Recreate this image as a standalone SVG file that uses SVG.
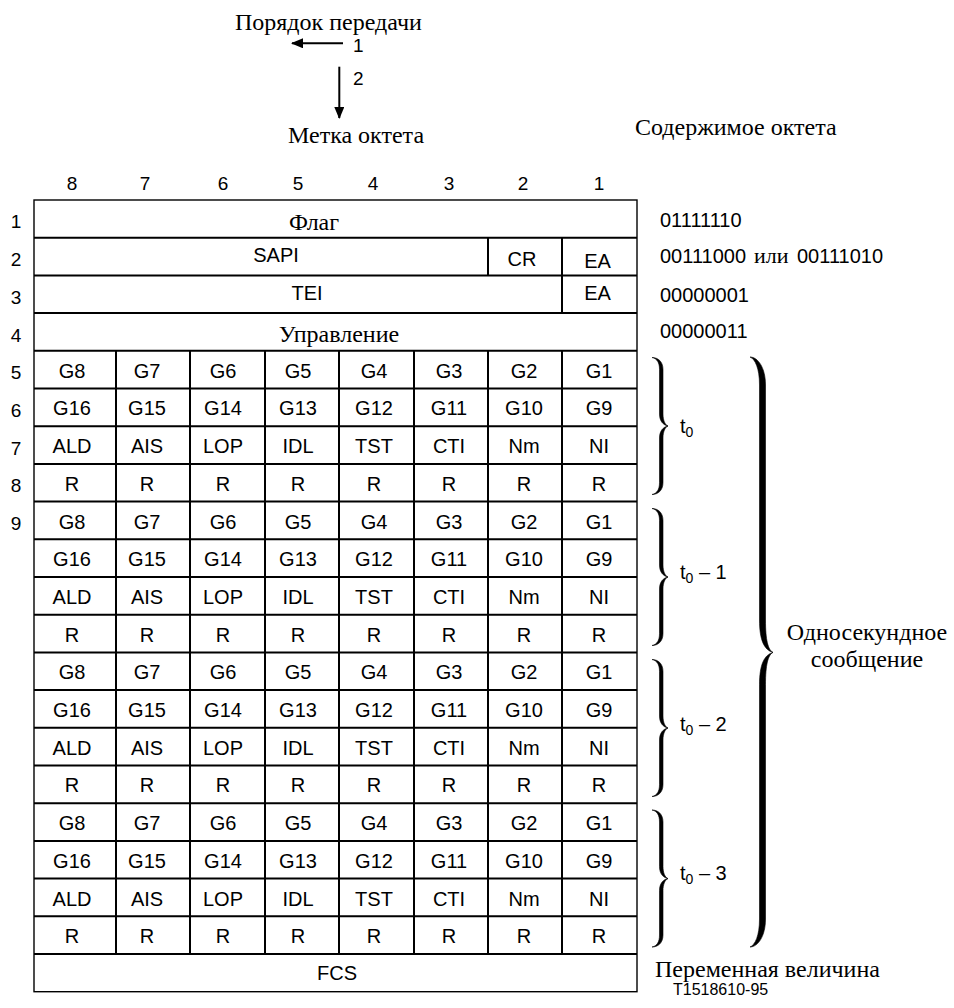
<svg xmlns="http://www.w3.org/2000/svg" width="954" height="1008" viewBox="0 0 954 1008">
<style>
.sans{font-family:"Liberation Sans",Arial,sans-serif;fill:#000}
.serif{font-family:"Liberation Serif","Times New Roman",serif;fill:#000}
.c{font-size:20px;text-anchor:middle}
.n{font-size:19px;text-anchor:middle}
.o{font-size:20px}
.s24{font-size:24px}
.grid{stroke:#000;stroke-width:2;fill:none}
.border{stroke:#000;stroke-width:1.4;fill:none}
.brace{fill:#000;stroke:#000;stroke-width:0.6}
</style>
<defs>
<marker id="ah" viewBox="0 0 12 10" refX="11" refY="5" markerWidth="12" markerHeight="10" markerUnits="userSpaceOnUse" orient="auto">
<path d="M0,0 L12,5 L0,10 Z" fill="#000"/>
</marker>
</defs>
<rect width="954" height="1008" fill="#fff"/>

<g id="legend">
<text class="serif s24" x="235" y="30">Порядок передачи</text>
<text class="sans" font-size="19" x="353" y="52">1</text>
<text class="sans" font-size="19" x="353" y="85">2</text>
<text class="serif s24" x="288" y="143">Метка октета</text>
<text class="serif s24" x="635" y="135">Содержимое октета</text>
</g>

<g id="connectors">
<line x1="343" y1="43.3" x2="292" y2="43.3" stroke="#000" stroke-width="2" marker-end="url(#ah)"/>
<line x1="339.3" y1="66.7" x2="339.3" y2="118" stroke="#000" stroke-width="2" marker-end="url(#ah)"/>
</g>

<g id="bit-numbers" class="sans n">
<text x="72" y="190">8</text><text x="145" y="190">7</text><text x="223" y="190">6</text><text x="298" y="190">5</text>
<text x="373" y="190">4</text><text x="449" y="190">3</text><text x="523" y="190">2</text><text x="599" y="190">1</text>
</g>

<g id="octet-numbers" class="sans n">
<text x="16" y="228.4">1</text><text x="16" y="266">2</text><text x="16" y="303.8">3</text><text x="16" y="341.5">4</text>
<text x="16" y="379.2">5</text><text x="16" y="416.9">6</text><text x="16" y="454.6">7</text><text x="16" y="492.3">8</text>
<text x="16" y="530">9</text>
</g>

<g id="table-grid">
<rect class="border" x="34" y="200" width="603" height="791.7"/>
<path class="grid" d="M34,237.7H637 M34,275.4H637 M34,313.1H637 M34,350.8H637 M34,388.5H637 M34,426.2H637 M34,463.9H637 M34,501.6H637 M34,539.3H637 M34,577H637 M34,614.7H637 M34,652.4H637 M34,690.1H637 M34,727.8H637 M34,765.5H637 M34,803.2H637 M34,840.9H637 M34,878.6H637 M34,916.3H637 M34,954H637"/>
<path class="grid" d="M488,237.7V275.4 M562,237.7V313.1 M116,350.8V954 M190,350.8V954 M265,350.8V954 M339,350.8V954 M414,350.8V954 M488,350.8V954 M562,350.8V954"/>
</g>

<g id="row-flag"><text class="serif s24" x="314" y="230" text-anchor="middle">Флаг</text></g>
<g id="row-sapi" class="sans c">
<text x="276" y="262">SAPI</text><text x="522" y="266">CR</text><text x="597.5" y="268.3">EA</text>
</g>
<g id="row-tei" class="sans c"><text x="307" y="300">TEI</text><text x="597.5" y="300">EA</text></g>
<g id="row-control"><text class="serif s24" x="339" y="341.5" text-anchor="middle">Управление</text></g>

<g id="group-t0" class="sans c">
<text x="72" y="377.7">G8</text><text x="147" y="377.7">G7</text><text x="223" y="377.7">G6</text><text x="298" y="377.7">G5</text><text x="374" y="377.7">G4</text><text x="449" y="377.7">G3</text><text x="524" y="377.7">G2</text><text x="599" y="377.7">G1</text>
<text x="72" y="415.4">G16</text><text x="147" y="415.4">G15</text><text x="223" y="415.4">G14</text><text x="298" y="415.4">G13</text><text x="374" y="415.4">G12</text><text x="449" y="415.4">G11</text><text x="524" y="415.4">G10</text><text x="599" y="415.4">G9</text>
<text x="72" y="453.1">ALD</text><text x="147" y="453.1">AIS</text><text x="223" y="453.1">LOP</text><text x="298" y="453.1">IDL</text><text x="374" y="453.1">TST</text><text x="449" y="453.1">CTI</text><text x="524" y="453.1">Nm</text><text x="599" y="453.1">NI</text>
<text x="72" y="490.8">R</text><text x="147" y="490.8">R</text><text x="223" y="490.8">R</text><text x="298" y="490.8">R</text><text x="374" y="490.8">R</text><text x="449" y="490.8">R</text><text x="524" y="490.8">R</text><text x="599" y="490.8">R</text>
</g>
<g id="group-t0-1" class="sans c">
<text x="72" y="528.5">G8</text><text x="147" y="528.5">G7</text><text x="223" y="528.5">G6</text><text x="298" y="528.5">G5</text><text x="374" y="528.5">G4</text><text x="449" y="528.5">G3</text><text x="524" y="528.5">G2</text><text x="599" y="528.5">G1</text>
<text x="72" y="566.2">G16</text><text x="147" y="566.2">G15</text><text x="223" y="566.2">G14</text><text x="298" y="566.2">G13</text><text x="374" y="566.2">G12</text><text x="449" y="566.2">G11</text><text x="524" y="566.2">G10</text><text x="599" y="566.2">G9</text>
<text x="72" y="603.9">ALD</text><text x="147" y="603.9">AIS</text><text x="223" y="603.9">LOP</text><text x="298" y="603.9">IDL</text><text x="374" y="603.9">TST</text><text x="449" y="603.9">CTI</text><text x="524" y="603.9">Nm</text><text x="599" y="603.9">NI</text>
<text x="72" y="641.6">R</text><text x="147" y="641.6">R</text><text x="223" y="641.6">R</text><text x="298" y="641.6">R</text><text x="374" y="641.6">R</text><text x="449" y="641.6">R</text><text x="524" y="641.6">R</text><text x="599" y="641.6">R</text>
</g>
<g id="group-t0-2" class="sans c">
<text x="72" y="679.3">G8</text><text x="147" y="679.3">G7</text><text x="223" y="679.3">G6</text><text x="298" y="679.3">G5</text><text x="374" y="679.3">G4</text><text x="449" y="679.3">G3</text><text x="524" y="679.3">G2</text><text x="599" y="679.3">G1</text>
<text x="72" y="717">G16</text><text x="147" y="717">G15</text><text x="223" y="717">G14</text><text x="298" y="717">G13</text><text x="374" y="717">G12</text><text x="449" y="717">G11</text><text x="524" y="717">G10</text><text x="599" y="717">G9</text>
<text x="72" y="754.7">ALD</text><text x="147" y="754.7">AIS</text><text x="223" y="754.7">LOP</text><text x="298" y="754.7">IDL</text><text x="374" y="754.7">TST</text><text x="449" y="754.7">CTI</text><text x="524" y="754.7">Nm</text><text x="599" y="754.7">NI</text>
<text x="72" y="792.4">R</text><text x="147" y="792.4">R</text><text x="223" y="792.4">R</text><text x="298" y="792.4">R</text><text x="374" y="792.4">R</text><text x="449" y="792.4">R</text><text x="524" y="792.4">R</text><text x="599" y="792.4">R</text>
</g>
<g id="group-t0-3" class="sans c">
<text x="72" y="830.1">G8</text><text x="147" y="830.1">G7</text><text x="223" y="830.1">G6</text><text x="298" y="830.1">G5</text><text x="374" y="830.1">G4</text><text x="449" y="830.1">G3</text><text x="524" y="830.1">G2</text><text x="599" y="830.1">G1</text>
<text x="72" y="867.8">G16</text><text x="147" y="867.8">G15</text><text x="223" y="867.8">G14</text><text x="298" y="867.8">G13</text><text x="374" y="867.8">G12</text><text x="449" y="867.8">G11</text><text x="524" y="867.8">G10</text><text x="599" y="867.8">G9</text>
<text x="72" y="905.5">ALD</text><text x="147" y="905.5">AIS</text><text x="223" y="905.5">LOP</text><text x="298" y="905.5">IDL</text><text x="374" y="905.5">TST</text><text x="449" y="905.5">CTI</text><text x="524" y="905.5">Nm</text><text x="599" y="905.5">NI</text>
<text x="72" y="943.2">R</text><text x="147" y="943.2">R</text><text x="223" y="943.2">R</text><text x="298" y="943.2">R</text><text x="374" y="943.2">R</text><text x="449" y="943.2">R</text><text x="524" y="943.2">R</text><text x="599" y="943.2">R</text>
</g>
<g id="row-fcs"><text class="sans c" x="337" y="980">FCS</text></g>

<g id="octet-contents">
<text class="sans o" x="660" y="226.7">01111110</text>
<text x="660" y="263"><tspan class="sans o">00111000</tspan><tspan class="serif" font-size="22" x="754">или</tspan><tspan class="sans o" x="797">00111010</tspan></text>
<text class="sans o" x="660" y="301.7">00000001</text>
<text class="sans o" x="660" y="338">00000011</text>
<text class="serif s24" x="655" y="977">Переменная величина</text>
<text class="sans" font-size="16" x="673" y="995">T1518610-95</text>
</g>

<g id="brace-t0">
<path class="brace" d="M652,357.5 C658,357.5 663,361.5 663,369.5 L663,414 C663,420 665,425 668,426 C665,427 663,432 663,438 L663,482.5 C663,490.5 658,494.5 652,494.5 C657,493.5 659.5,489.5 659.5,482.5 L659.5,438 C659.5,431 663,427 668,426 C663,425 659.5,421 659.5,414 L659.5,369.5 C659.5,362.5 657,358.5 652,357.5 Z"/>
<text class="sans" font-size="20" x="680" y="433">t<tspan font-size="14" dy="4">0</tspan></text>
</g>
<g id="brace-t0-1">
<path class="brace" d="M652,508.5 C658,508.5 663,512.5 663,520.5 L663,565 C663,571 665,576 668,577 C665,578 663,583 663,589 L663,633.5 C663,641.5 658,645.5 652,645.5 C657,644.5 659.5,640.5 659.5,633.5 L659.5,589 C659.5,582 663,578 668,577 C663,576 659.5,572 659.5,565 L659.5,520.5 C659.5,513.5 657,509.5 652,508.5 Z"/>
<text class="sans" font-size="20" x="680" y="579">t<tspan font-size="14" dy="4">0</tspan><tspan dy="-4"> – 1</tspan></text>
</g>
<g id="brace-t0-2">
<path class="brace" d="M652,659.5 C658,659.5 663,663.5 663,671.5 L663,716 C663,722 665,727 668,728 C665,729 663,734 663,740 L663,784.5 C663,792.5 658,796.5 652,796.5 C657,795.5 659.5,791.5 659.5,784.5 L659.5,740 C659.5,733 663,729 668,728 C663,727 659.5,723 659.5,716 L659.5,671.5 C659.5,664.5 657,660.5 652,659.5 Z"/>
<text class="sans" font-size="20" x="680" y="731">t<tspan font-size="14" dy="4">0</tspan><tspan dy="-4"> – 2</tspan></text>
</g>
<g id="brace-t0-3">
<path class="brace" d="M652,810 C658,810 663,814 663,822 L663,866.6 C663,872.6 665,877.6 668,878.6 C665,879.6 663,884.6 663,890.6 L663,935 C663,943 658,947 652,947 C657,946 659.5,942 659.5,935 L659.5,890.6 C659.5,883.6 663,879.6 668,878.6 C663,877.6 659.5,873.6 659.5,866.6 L659.5,822 C659.5,815 657,811 652,810 Z"/>
<text class="sans" font-size="20" x="680" y="880">t<tspan font-size="14" dy="4">0</tspan><tspan dy="-4"> – 3</tspan></text>
</g>
<g id="brace-second">
<path class="brace" d="M750,357 C758,357 765.5,368 765.5,385 L765.5,620 C765.5,640 768,650 773,652.4 C768,654.8 765.5,664.8 765.5,684.8 L765.5,919 C765.5,936 758,947 750,947 C755,945 759.5,936 759.5,919 L759.5,684.8 C759.5,664.8 764,655 773,652.4 C764,649.8 759.5,640 759.5,620 L759.5,385 C759.5,368 755,359 750,357 Z"/>
<text class="serif s24" x="867" y="640" text-anchor="middle">Односекундное</text>
<text class="serif s24" x="867" y="667" text-anchor="middle">сообщение</text>
</g>
</svg>
